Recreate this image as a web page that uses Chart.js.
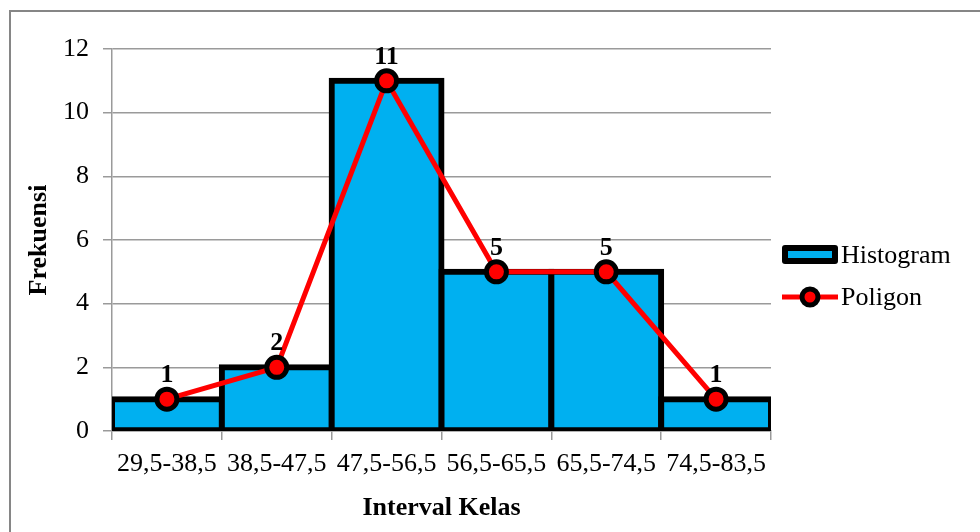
<!DOCTYPE html>
<html lang="id">
<head>
<meta charset="UTF-8">
<title>Histogram dan Poligon</title>
<script src="https://cdn.jsdelivr.net/npm/chart.js"></script>
<style>
  html, body { margin: 0; padding: 0; background: #fff; }
  .wrap { position: relative; width: 980px; height: 532px; overflow: hidden; }
  .frame { position: absolute; left: 9px; top: 10px; width: 1000px; height: 600px;
           border-left: 2px solid #868686; border-top: 2px solid #868686; }
  canvas { position: absolute; left: 0; top: 0; }
</style>
</head>
<body>
<div class="wrap">
  <div class="frame"></div>
  <canvas id="grafik" width="980" height="532"></canvas>
</div>

<script>
// data
var kelas = ['29,5-38,5', '38,5-47,5', '47,5-56,5', '56,5-65,5', '65,5-74,5', '74,5-83,5'];
var frekuensi = [1, 2, 11, 5, 5, 1];
var yTicks = [0, 2, 4, 6, 8, 10, 12];

var serif = "'Liberation Serif', 'Times New Roman', serif";
var abu = '#9a9a9a';

// label angka di atas titik poligon
const labelTitik = {
  id: 'labelTitik',
  afterDatasetsDraw(chart) {
    const ctx = chart.ctx;
    const meta = chart.getDatasetMeta(1);
    ctx.save();
    ctx.font = 'bold 26px ' + serif;
    ctx.fillStyle = '#000';
    ctx.textAlign = 'center';
    ctx.textBaseline = 'alphabetic';
    meta.data.forEach(function (pt, i) {
      ctx.fillText(String(frekuensi[i]), pt.x, pt.y - 17);
    });
    ctx.restore();
  }
};

// legenda di kanan
const legendaKanan = {
  id: 'legendaKanan',
  afterDraw(chart) {
    const ctx = chart.ctx;
    ctx.save();
    // Histogram
    ctx.fillStyle = '#000';
    ctx.beginPath();
    ctx.roundRect(782, 245, 56, 19, 3);
    ctx.fill();
    ctx.fillStyle = '#00B0F0';
    ctx.fillRect(788, 251, 44, 7);
    // Poligon
    ctx.strokeStyle = '#FF0000';
    ctx.lineWidth = 5;
    ctx.beginPath();
    ctx.moveTo(782, 297);
    ctx.lineTo(838, 297);
    ctx.stroke();
    ctx.beginPath();
    ctx.arc(810, 297, 8, 0, Math.PI * 2);
    ctx.fillStyle = '#FF0000';
    ctx.fill();
    ctx.lineWidth = 5;
    ctx.strokeStyle = '#000';
    ctx.stroke();
    // teks
    ctx.fillStyle = '#000';
    ctx.font = '26px ' + serif;
    ctx.textAlign = 'left';
    ctx.textBaseline = 'middle';
    ctx.fillText('Histogram', 841, 256);
    ctx.fillText('Poligon', 841, 298);
    ctx.restore();
  }
};

const config = {
  data: {
    labels: kelas,
    datasets: [
      {
        type: 'bar',
        label: 'Histogram',
        data: frekuensi,
        backgroundColor: '#00B0F0',
        borderColor: '#000',
        borderWidth: 6,
        borderSkipped: false,
        inflateAmount: 3,
        barPercentage: 1,
        categoryPercentage: 1,
        order: 2
      },
      {
        type: 'line',
        label: 'Poligon',
        data: frekuensi,
        borderColor: '#FF0000',
        borderWidth: 5,
        tension: 0,
        pointRadius: 10,
        pointHoverRadius: 10,
        pointBackgroundColor: '#FF0000',
        pointBorderColor: '#000',
        pointBorderWidth: 5,
        order: 1
      }
    ]
  },
  options: {
    responsive: false,
    animation: false,
    layout: { padding: { left: 0, top: 49, right: 209, bottom: 0 } },
    plugins: {
      legend: { display: false },
      tooltip: { enabled: false }
    },
    scales: {
      x: {
        offset: true,
        grid: {
          offset: true,
          drawOnChartArea: false,
          color: abu,
          lineWidth: 1.5,
          tickLength: 9
        },
        border: { color: abu, width: 1.5 },
        ticks: {
          color: '#000',
          font: { family: serif, size: 26 },
          padding: 9,
          maxRotation: 0
        },
        title: {
          display: true,
          text: 'Interval Kelas',
          color: '#000',
          font: { family: serif, size: 26, weight: 'bold' },
          padding: { top: 8, bottom: 8 }
        },
        afterFit: function (scale) { scale.height = 101; }
      },
      y: {
        min: 0,
        max: 12,
        afterBuildTicks: function (scale) {
          scale.ticks = yTicks.map(function (v) { return { value: v }; });
        },
        grid: {
          color: abu,
          lineWidth: 1.5,
          tickLength: 9
        },
        border: { color: abu, width: 1.5 },
        ticks: {
          color: '#000',
          font: { family: serif, size: 26 },
          padding: 14
        },
        title: {
          display: true,
          text: 'Frekuensi',
          color: '#000',
          font: { family: serif, size: 26, weight: 'bold' },
          padding: { top: 24, bottom: 24 }
        },
        afterFit: function (scale) { scale.width = 112; }
      }
    }
  },
  plugins: [labelTitik, legendaKanan]
};

new Chart(document.getElementById('grafik'), config);
</script>
</body>
</html>
